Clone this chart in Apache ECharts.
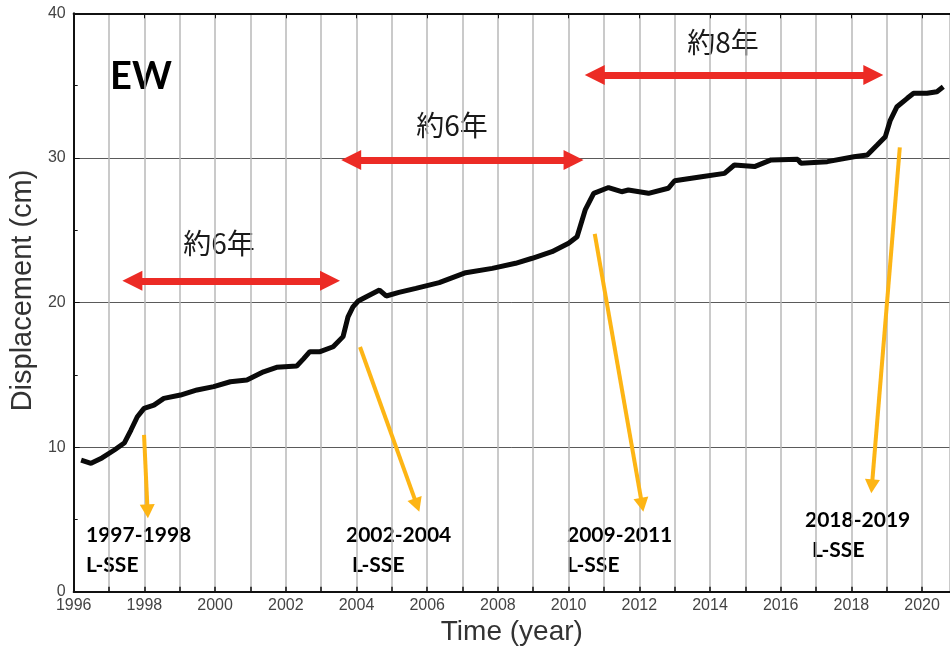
<!DOCTYPE html>
<html>
<head>
<meta charset="utf-8">
<script src="https://cdn.jsdelivr.net/npm/echarts@6/dist/echarts.min.js"></script>
<style>
html,body{margin:0;padding:0;background:#fff;}
#chart{width:950px;height:656px;}
</style>
</head>
<body>
<div id="chart"></div>
<script>
// ---- data ----
const years = [1996.21,1996.49,1996.80,1997.15,1997.43,1997.62,1997.80,1997.99,1998.27,1998.55,
  1999.02,1999.49,1999.96,2000.43,2000.90,2001.37,2001.74,2002.31,2002.50,2002.68,
  2002.97,2003.34,2003.62,2003.76,2003.90,2004.05,2004.28,2004.65,2004.84,2005.20,
  2005.68,2006.34,2007.09,2007.84,2008.50,2008.97,2009.53,2010.00,2010.24,2010.47,
  2010.71,2011.13,2011.50,2011.69,2012.26,2012.82,2013.00,2013.76,2014.41,2014.69,
  2015.26,2015.73,2016.48,2016.57,2017.32,2018.07,2018.45,2018.73,2018.96,2019.10,
  2019.29,2019.58,2019.76,2020.14,2020.42,2020.60];
const disp = [9.10,8.88,9.25,9.80,10.28,11.18,12.10,12.68,12.90,13.37,
  13.60,13.95,14.18,14.52,14.64,15.21,15.52,15.61,16.10,16.60,
  16.60,16.94,17.64,19.00,19.70,20.10,20.40,20.86,20.45,20.70,
  20.98,21.37,22.06,22.36,22.71,23.06,23.51,24.10,24.55,26.40,
  27.55,27.95,27.66,27.78,27.55,27.90,28.42,28.70,28.93,29.51,
  29.40,29.86,29.90,29.63,29.74,30.08,30.20,30.89,31.47,32.60,
  33.54,34.12,34.47,34.47,34.58,34.92];
// interval spans (start year, end year, height cm) and their labels
const spanStart = [1997.66, 2003.85, 2010.74];
const spanEnd   = [2003.25, 2010.14, 2018.62];
const spanY     = [21.5, 29.85, 35.73];
const spanText  = ['約6年', '約6年', '約8年'];
// SSE pointer arrows: from [year, cm] to [year, cm]
const sseFromX = [1997.99, 2004.10, 2010.74, 2019.37];
const sseFromY = [10.84, 16.92, 24.74, 30.73];
const sseToX   = [1998.09, 2005.71, 2012.08, 2018.58];
const sseToY   = [5.56, 5.99, 6.01, 7.29];
const sseLabel = ['1997-1998', '2002-2004', '2009-2011', '2018-2019'];
const xTicks = [1996, 2020.79];
const yTicks = [0, 40];

const RED = '#EC2B25', ORANGE = '#FDB515';

const markData = [];
for (let i = 0; i < spanStart.length; i++) {
  markData.push([
    {coord:[spanStart[i], spanY[i]], symbol:'triangle', symbolSize:[20,20],
     lineStyle:{color:RED, width:7, type:'solid'}},
    {coord:[spanEnd[i], spanY[i]], symbol:'triangle', symbolSize:[20,20]}
  ]);
}
for (let i = 0; i < sseFromX.length; i++) {
  markData.push([
    {coord:[sseFromX[i], sseFromY[i]], symbol:'none',
     lineStyle:{color:ORANGE, width:4, type:'solid'}},
    {coord:[sseToX[i], sseToY[i]], symbol:'triangle', symbolSize:[15,14]}
  ]);
}

const chart = echarts.init(document.getElementById('chart'), null, {renderer:'canvas'});
const tickFont = {fontFamily:'Liberation Sans', fontSize:16, color:'#444'};
const boldFont = 'bold 21px Lato';

const graphics = [
  {type:'text', x:141, y:77, style:{text:'EW', font:'bold 38px Lato', fill:'#000', align:'center', verticalAlign:'middle'}},
  {type:'text', x:219, y:243, style:{text:spanText[0], font:'28px "Noto Sans CJK JP"', fill:'#1a1a1a', align:'center', verticalAlign:'middle'}},
  {type:'text', x:452, y:125, style:{text:spanText[1], font:'28px "Noto Sans CJK JP"', fill:'#1a1a1a', align:'center', verticalAlign:'middle'}},
  {type:'text', x:723, y:42, style:{text:spanText[2], font:'28px "Noto Sans CJK JP"', fill:'#1a1a1a', align:'center', verticalAlign:'middle'}},
  {type:'text', x:86, y:535, style:{text:sseLabel[0], font:boldFont, fill:'#000', align:'left', verticalAlign:'middle'}},
  {type:'text', x:86, y:565, style:{text:'L-SSE', font:boldFont, fill:'#000', align:'left', verticalAlign:'middle'}},
  {type:'text', x:346, y:535, style:{text:sseLabel[1], font:boldFont, fill:'#000', align:'left', verticalAlign:'middle'}},
  {type:'text', x:352, y:565, style:{text:'L-SSE', font:boldFont, fill:'#000', align:'left', verticalAlign:'middle'}},
  {type:'text', x:567, y:535, style:{text:sseLabel[2], font:boldFont, fill:'#000', align:'left', verticalAlign:'middle'}},
  {type:'text', x:567, y:565, style:{text:'L-SSE', font:boldFont, fill:'#000', align:'left', verticalAlign:'middle'}},
  {type:'text', x:805, y:520, style:{text:sseLabel[3], font:boldFont, fill:'#000', align:'left', verticalAlign:'middle'}},
  {type:'text', x:812, y:550, style:{text:'L-SSE', font:boldFont, fill:'#000', align:'left', verticalAlign:'middle'}}
];

chart.setOption({
  animation:false,
  backgroundColor:'#fff',
  grid:{left:69.3, right:0, top:13.3, bottom:64.3, containLabel:false},
  xAxis:[{
    type:'value', min:xTicks[0], max:xTicks[1], interval:1, position:'bottom',
    axisLine:{show:true, lineStyle:{color:'#111', width:2}},
    axisTick:{show:true, inside:true, length:5, lineStyle:{color:'#111', width:1.5},
      interval:function(i, v){return true;}},
    axisLabel:{show:true, margin:6, ...tickFont,
      formatter:function(v){ return (Math.abs(v - Math.round(v)) < 1e-6 && Math.round(v) % 2 === 0) ? String(Math.round(v)) : ''; },
      showMaxLabel:false},
    splitLine:{show:true, lineStyle:{color:'#b8b8b8', width:1.5}},
    name:'Time (year)', nameLocation:'middle', nameGap:24,
    nameTextStyle:{fontFamily:'Liberation Sans', fontSize:28, color:'#333'}
  },{
    type:'value', min:xTicks[0], max:xTicks[1], interval:2, position:'top',
    axisLine:{show:true, lineStyle:{color:'#111', width:2}},
    axisTick:{show:true, inside:true, length:5, lineStyle:{color:'#111', width:1}},
    axisLabel:{show:false}, splitLine:{show:false}
  }],
  yAxis:{
    type:'value', min:yTicks[0], max:yTicks[1], interval:10,
    axisLine:{show:true, lineStyle:{color:'#111', width:2}},
    axisTick:{show:true, inside:true, length:6, lineStyle:{color:'#111'}},
    minorTick:{show:true, splitNumber:2, length:4, lineStyle:{color:'#111'}},
    axisLabel:{margin:8, ...tickFont},
    splitLine:{show:true, lineStyle:{color:'#5a5a5a', width:1}},
    name:'Displacement (cm)', nameLocation:'middle', nameGap:30,
    nameTextStyle:{fontFamily:'Liberation Sans', fontSize:29, color:'#333', padding:[0,0,0,24]}
  },
  series:[{
    type:'line', xAxisIndex:0,
    data: years.map((y,i)=>[y, disp[i]]),
    showSymbol:false, smooth:false,
    lineStyle:{color:'#0a0a0a', width:5},
    silent:true, z:3,
    markLine:{
      silent:true, animation:false, precision:4,
      label:{show:false}, emphasis:{disabled:true},
      data: markData
    }
  }],
  graphic: graphics
});
</script>
</body>
</html>
